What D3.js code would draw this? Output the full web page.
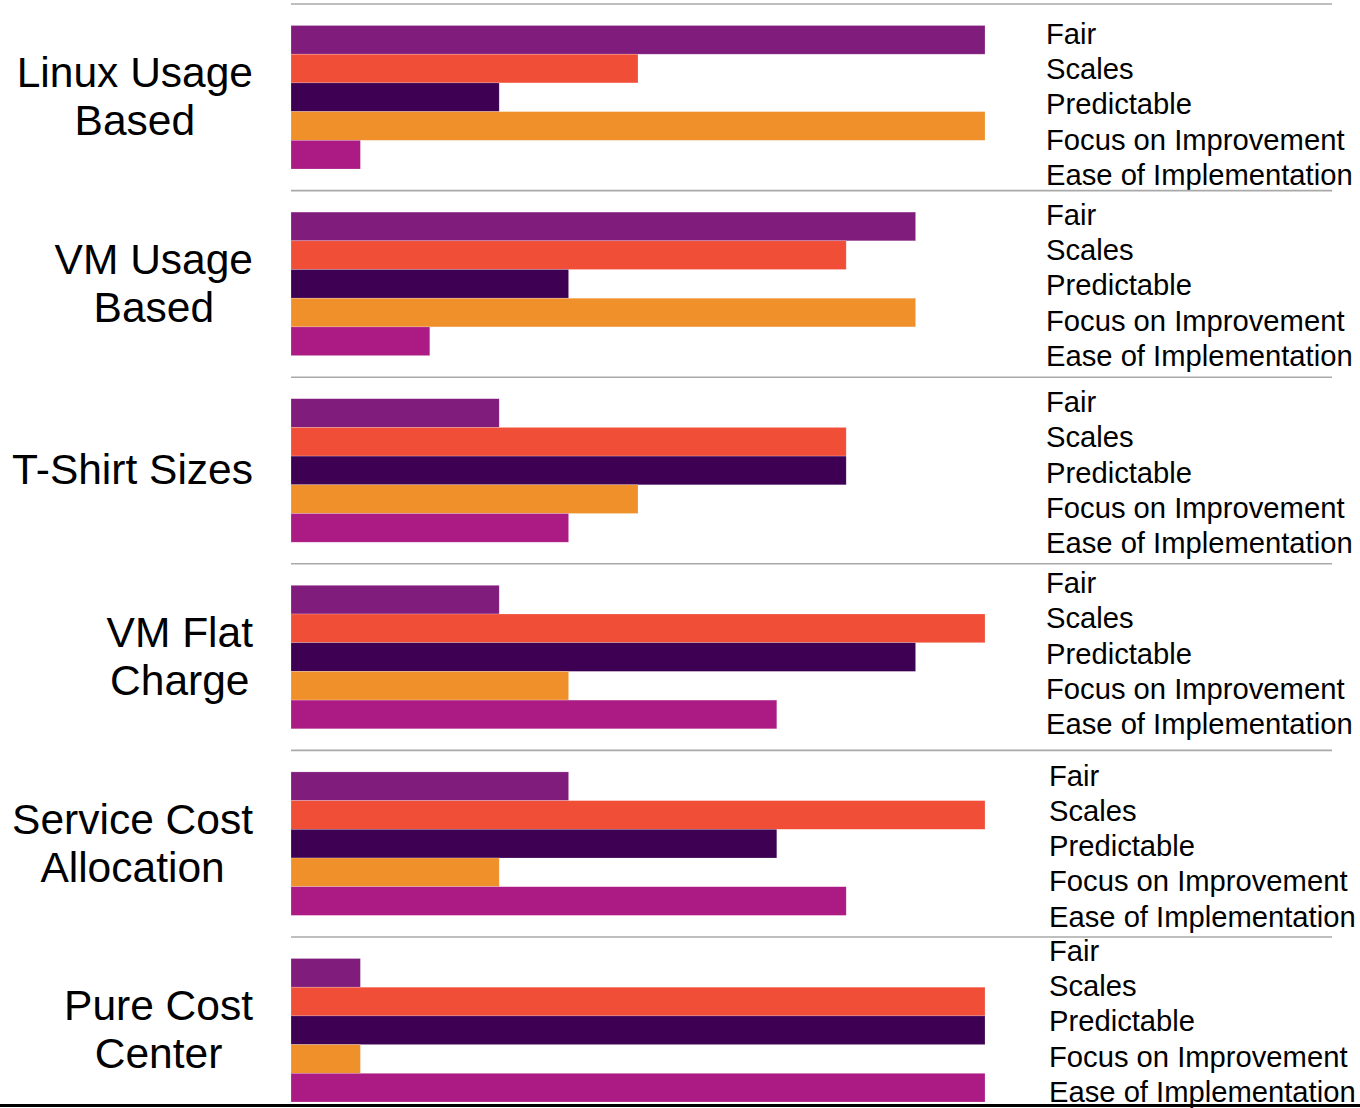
<!DOCTYPE html>
<html>
<head>
<meta charset="utf-8">
<script src="https://cdn.jsdelivr.net/npm/d3@7"></script>
<style>
  html, body { margin: 0; padding: 0; background: #fff; }
  svg { display: block; }
</style>
</head>
<body>
<svg id="chart" width="1360" height="1108"></svg>
<script>
// Chargeback models and how each rates against five criteria (0–10)
const models = ["Linux Usage Based", "VM Usage Based", "T-Shirt Sizes", "VM Flat Charge", "Service Cost Allocation", "Pure Cost Center"];
const modelLines = [["Linux Usage", "Based"], ["VM Usage", "Based"], ["T-Shirt Sizes"], ["VM Flat", "Charge"], ["Service Cost", "Allocation"], ["Pure Cost", "Center"]];
const criteria = ["Fair", "Scales", "Predictable", "Focus on Improvement", "Ease of Implementation"];

const fair        = [10, 9, 3, 3, 4, 1];
const scales      = [5, 8, 8, 10, 10, 10];
const predictable = [3, 4, 8, 9, 7, 10];
const focus       = [10, 9, 5, 4, 3, 1];
const ease        = [1, 2, 4, 7, 8, 10];

const colors = ["#801c7c", "#f04e37", "#3d0052", "#f0902a", "#ac1a84"];

// rows: one per model, with a value per criterion
const seriesValues = [fair, scales, predictable, focus, ease];
const rows = models.map((m, i) => ({
  model: m,
  lines: modelLines[i],
  values: criteria.map((c, j) => ({ key: c, value: seriesValues[j][i], color: colors[j] }))
}));

// legend placement inside each panel (baseline of first entry, left edge)
const legendBaseline = [40, 34.5, 35, 29.5, 35.5, 24];
const legendX = [1046, 1046, 1046, 1046, 1049, 1049];

const svg = d3.select("#chart");
const panelH = 186.6;

const y = d3.scaleBand()
  .domain(models)
  .range([4, 4 + panelH * models.length])
  .padding(0);

const yInner = d3.scaleBand()
  .domain(criteria)
  .range([21.5, 165])
  .padding(0);

const x = d3.scaleLinear().domain([0, 10]).range([291, 985]);

const panel = svg.selectAll("g.panel")
  .data(rows)
  .join("g")
  .attr("class", "panel")
  .attr("transform", d => `translate(0,${y(d.model)})`);

// separator above each panel
panel.append("line")
  .attr("x1", 291).attr("x2", 1332)
  .attr("y1", 0).attr("y2", 0)
  .attr("stroke", "#a9a9a9")
  .attr("stroke-width", 1.6);

// bars
panel.selectAll("rect")
  .data(d => d.values)
  .join("rect")
  .attr("x", x(0))
  .attr("y", d => yInner(d.key))
  .attr("width", d => x(d.value) - x(0))
  .attr("height", yInner.bandwidth())
  .attr("fill", d => d.color)
  .attr("stroke", "#ffffff")
  .attr("stroke-opacity", 0.35)
  .attr("stroke-width", 0.6);

// model names, block right-aligned with lines centred within the block
const fontFamily = "'Liberation Sans', Arial, Helvetica, sans-serif";
panel.each(function(d) {
  const g = d3.select(this);
  const lh = 48;
  const n = d.lines.length;
  const mid = y.bandwidth() / 2;
  const t = g.append("text")
    .attr("font-family", fontFamily)
    .attr("font-size", 42.5)
    .attr("fill", "#000")
    .attr("text-anchor", "middle");
  const spans = t.selectAll("tspan")
    .data(d.lines)
    .join("tspan")
    .attr("y", (s, i) => mid + 14 + (i - (n - 1) / 2) * lh)
    .text(s => s);
  let maxW = 0;
  spans.each(function() { maxW = Math.max(maxW, this.getComputedTextLength()); });
  spans.attr("x", 253 - maxW / 2);
});

// per-panel criteria legend
panel.each(function(d, i) {
  d3.select(this).append("g")
    .selectAll("text")
    .data(criteria)
    .join("text")
    .attr("x", legendX[i])
    .attr("y", (c, j) => legendBaseline[i] + j * 35.2)
    .attr("font-family", fontFamily)
    .attr("font-size", 29.2)
    .attr("fill", "#000")
    .text(c => c);
});

// baseline rule along the bottom
svg.append("line")
  .attr("x1", 0).attr("x2", 1360)
  .attr("y1", 1105.5).attr("y2", 1105.5)
  .attr("stroke", "#000")
  .attr("stroke-width", 3);
</script>
</body>
</html>
